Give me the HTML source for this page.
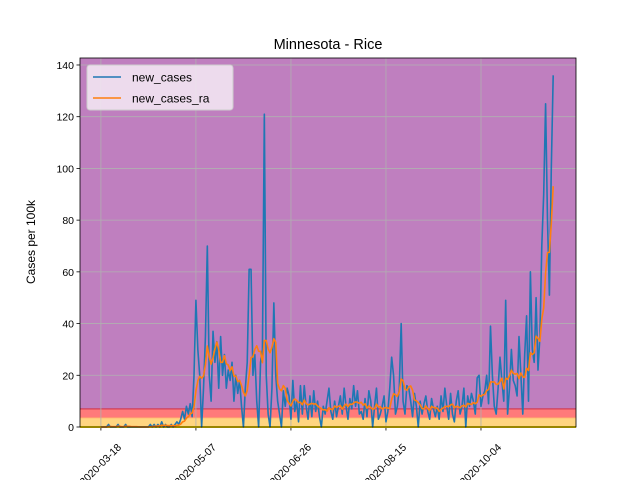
<!DOCTYPE html>
<html><head><meta charset="utf-8"><style>
body{margin:0;background:#fff;overflow:hidden;}
svg{display:block;font-family:"Liberation Sans",sans-serif;}
</style></head><body>
<svg id="chart" width="640" height="480"></svg>
<script>
const startDate = "2020-03-18";
const xTickLabels = ["2020-03-18","2020-05-07","2020-06-26","2020-08-15","2020-10-04"];
const xTickDays = [0,50,100,150,200];
const yTicks = [0,20,40,60,80,100,120,140];
const bandLimits = [0,3.6,7,142.7];
const newCases = [
0,0,0,0,1,0,0,0,0,1,
0,0,0,1,0,0,0,0,0,0,
0,0,0,0,0,0,1,0,1,0,
1,0,2,0,1,0,0,1,0,1,
2,1,3,6,3,8,5,9,4,20,
49,30,20,0,15,35,70,20,10,37,
25,33,15,35,20,28,15,22,18,25,
10,20,13,18,8,0,15,25,61,61,
20,28,10,0,25,30,121,20,5,0,
15,48,20,10,5,0,14,8,15,12,
3,18,6,10,2,16,5,16,8,3,
12,4,14,6,10,4,0,8,5,10,
15,6,3,10,4,8,12,5,15,8,
3,11,7,16,8,14,5,6,3,11,
4,14,10,0,8,15,3,5,8,12,
2,6,15,27,20,5,8,15,40,10,
5,16,15,10,4,13,8,0,10,5,9,12,6,3,11,7,4,
8,3,12,6,15,8,3,13,5,2,
10,14,5,8,15,0,12,8,13,10,
5,19,20,8,12,14,20,9,39,
20,8,5,15,27,18,10,49,5,15,30,18,16,12,35,20,5,28,43,10,60,
30,25,50,22,35,70,90,125,80,51,100,136];
// 7-day trailing rolling average of the cases series
const newCasesRa = newCases.map((v,i)=>{const s=newCases.slice(Math.max(0,i-6),i+1);return s.reduce((a,b)=>a+b,0)/s.length;});

const svg=document.getElementById('chart');
const NS="http://www.w3.org/2000/svg";
const L=80,R=576,T=58,B=427;
const xDayMin=-11,xDayMax=250,yMin=0,yMax=142.7;
const xs=d=>L+(d-xDayMin)/(xDayMax-xDayMin)*(R-L);
const ys=v=>B-(v-yMin)/(yMax-yMin)*(B-T);
function mk(tag,attrs,parent){const e=document.createElementNS(NS,tag);for(const k in attrs)e.setAttribute(k,attrs[k]);(parent||svg).appendChild(e);return e;}

const bandColors=["#ffd580","#ff7a7a","#bf7fbf"];
for(let i=0;i<3;i++){
  const r=mk('rect',{x:L,y:ys(bandLimits[i+1]),width:R-L,height:ys(bandLimits[i])-ys(bandLimits[i+1]),fill:bandColors[i]});
  
  
}
mk('line',{x1:L,x2:R,y1:ys(7),y2:ys(7),stroke:"#d0405a","stroke-width":1.2});
mk('line',{x1:L,x2:R,y1:ys(3.6),y2:ys(3.6),stroke:"#ff9f70","stroke-width":1});
// grid
yTicks.forEach(t=>{
  const g=mk('line',{x1:L,x2:R,y1:ys(t),y2:ys(t),stroke:"#b0b0b0","stroke-width":0.8});
  
  
  mk('line',{x1:L-3.5,x2:L,y1:ys(t),y2:ys(t),stroke:"#000","stroke-width":0.8});
  const tx=mk('text',{x:L-6,y:ys(t)+4,"text-anchor":"end","font-size":"10.5"});
  tx.textContent=t;
  
  
});
xTickDays.forEach((d,i)=>{
  const g=mk('line',{x1:xs(d),x2:xs(d),y1:T,y2:B,stroke:"#b0b0b0","stroke-width":0.8});
  
  
  mk('line',{x1:xs(d),x2:xs(d),y1:B,y2:B+3.5,stroke:"#000","stroke-width":0.8});
  const cx=xs(d)+2, cy=467;
  const tx=mk('text',{x:cx,y:cy,"text-anchor":"middle","font-size":"10.5",transform:`rotate(-45 ${cx} ${cy})`});
  tx.textContent=xTickLabels[i];
  
  
});
mk('line',{x1:L,x2:R,y1:B,y2:B,stroke:"#ffe000","stroke-width":2});
// series
const p1=mk('polyline',{points:newCases.map((v,i)=>xs(i)+","+ys(v)).join(" "),fill:"none",stroke:"#1f77b4","stroke-width":1.6,"stroke-linejoin":"round"});


const p2=mk('polyline',{points:newCasesRa.map((v,i)=>xs(i)+","+ys(v)).join(" "),fill:"none",stroke:"#ff7f0e","stroke-width":1.6,"stroke-linejoin":"round"});


// frame
const fr=mk('rect',{x:L,y:T,width:R-L,height:B-T,fill:"none",stroke:"#000","stroke-width":0.8});


// title & labels
const ti=mk('text',{x:328,y:49,"text-anchor":"middle","font-size":"14.5"});ti.textContent="Minnesota - Rice";


const yl=mk('text',{x:35,y:242,"text-anchor":"middle","font-size":"12",transform:"rotate(-90 35 242)"});yl.textContent="Cases per 100k";


// legend
const lg=mk('g',{});


mk('rect',{x:87,y:65,width:146,height:45,rx:3,fill:"#f2e6f2","fill-opacity":0.9,stroke:"#ccc"},lg);
[["new_cases","#1f77b4",77],["new_cases_ra","#ff7f0e",98]].forEach(([n,c,y])=>{
  mk('line',{x1:93,x2:121,y1:y,y2:y,stroke:c,"stroke-width":1.6},lg);
  const t=mk('text',{x:132,y:y+4.5,"font-size":"12"},lg);t.textContent=n;
  
  
});
</script>
</body></html>
